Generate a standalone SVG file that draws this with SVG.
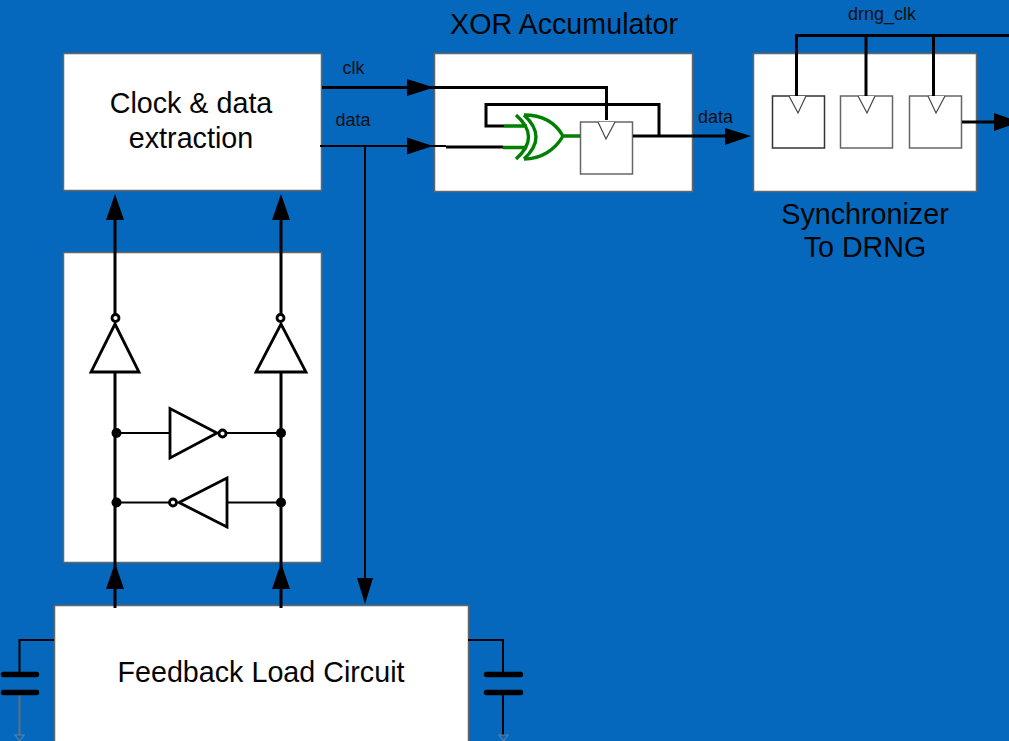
<svg xmlns="http://www.w3.org/2000/svg" width="1009" height="741" viewBox="0 0 1009 741">
<style>
.box{fill:#fff;stroke:#666;stroke-width:1.5}
.ff{fill:#fff;stroke:#666;stroke-width:1.5}
.clk{fill:#fff;stroke:#444;stroke-width:1.2}
.w{fill:none;stroke:#000;stroke-width:2}
.w3{fill:none;stroke:#000;stroke-width:3}
.g{fill:none;stroke:#008000;stroke-width:3.400}
.inv{fill:#fff;stroke:#000;stroke-width:2.800}
.a{fill:#000;stroke:none}
.dot{fill:#000}
.plate{stroke:#000;stroke-width:5.500;stroke-linecap:round;fill:none}
text{font-family:"Liberation Sans",Arial,sans-serif;fill:#000;text-anchor:middle}
.big{font-size:28.700px;fill:#050505}
.sm{font-size:18px;fill:#111}
</style>
<rect width="1009" height="741" fill="#0668bd"/>
<g id="clock-data-extraction"><rect class="box" x="63.500" y="53.500" width="258" height="137"/><text class="big" x="191" y="113">Clock &amp; data</text><text class="big" x="191" y="148">extraction</text></g>
<g id="latch"><rect class="box" x="63.500" y="252.500" width="258" height="310"/></g>
<g id="xor-accumulator"><rect class="box" x="434.500" y="53.500" width="258" height="138"/><text class="big" x="564" y="34">XOR Accumulator</text>
<rect class="ff" x="580.500" y="122" width="52" height="52"/><path class="clk" d="M598 122L606 139L615 122"/></g>
<g id="synchronizer"><rect class="box" x="753.500" y="53.500" width="223" height="138"/><text class="big" x="865" y="224">Synchronizer</text><text class="big" x="865" y="257">To DRNG</text>
<rect class="ff" x="772.500" y="96" width="52" height="52" style="stroke:#333"/><path class="clk" d="M789 96L798 113L806 96"/>
<rect class="ff" x="840.500" y="96" width="52" height="52"/><path class="clk" d="M858 96L867 113L875 96"/>
<rect class="ff" x="909.500" y="96" width="52" height="52"/><path class="clk" d="M928 96L936 113L945 96"/></g>
<g id="feedback-load-circuit"><rect class="box" x="54.500" y="605.500" width="414" height="140"/><text class="big" x="261" y="682">Feedback Load Circuit</text></g>
<g id="xor-gate"><path class="g" d="M504 126H527M503 147.500H527M563 136H580M516 115Q541 137 516 159M524 115Q548 137 524 159M524 115C541 115 555 122 563 136C555 150 541 159 524 159"/></g>
<g id="connectors">
<path class="w3" d="M322 87.500H606.500V120"/><path class="a" d="M407 79L434 87.500L407 96Z"/>
<path class="w" d="M320 146H446"/><path class="w3" d="M446 147H503"/><path class="a" d="M407 137.500L433 146L407 154.500Z"/>
<path class="w3" d="M504 126H486V104.500H659V136"/>
<path class="w3" d="M633 136H726"/><path class="a" d="M725 128L751 136L725 145Z"/>
<path class="w" d="M365 146V580"/><path class="a" d="M357 578H373L365 604Z"/>
<path class="w3" d="M796.500 96V35.500H1009"/><path class="w3" d="M866 35.500V96M933.500 35.500V96"/>
<path class="w3" d="M962 122H996"/><path class="a" d="M994 113L1020 122L994 131Z"/>
<path class="w3" d="M115 218V314M281 218V314M115 372V608M281 372V608"/>
<path class="a" d="M106 220L115 194L124 220ZM272 220L281 194L290 220ZM106 589L115 563L124 589ZM272 589L281 563L290 589Z"/>
<path class="w" d="M115 433H170M227 433H281M115 502.500H170M227 502.500H281"/>
<circle class="dot" cx="116.500" cy="433" r="5"/><circle class="dot" cx="281" cy="433" r="5"/><circle class="dot" cx="116.500" cy="502.500" r="5"/><circle class="dot" cx="281" cy="502.500" r="5"/>
<path class="w" d="M54 640H19.500V674M468 640H503V674M503 692V735"/>
<path d="M19.500 692V735" fill="none" stroke="#5c6f80" stroke-width="2"/>
</g>
<g id="inverters">
<path class="inv" d="M91 372H139L115 324Z"/><circle class="inv" cx="115.500" cy="318" r="3.500"/>
<path class="inv" d="M256 372H306L281 324Z"/><circle class="inv" cx="280.500" cy="318" r="3.500"/>
<path class="inv" d="M170 408.500V458L217 433Z"/><circle class="inv" cx="222.500" cy="433.500" r="3.500"/>
<path class="inv" d="M227 478V527L179 502.500Z"/><circle class="inv" cx="173" cy="502.500" r="3.500"/>
</g>
<g id="capacitors">
<path class="plate" d="M3.500 674.500H36.500M3.500 692.500H36.500M486.500 674.500H520.500M486.500 692.500H520.500"/>
<path d="M15 735H24L19.500 741Z" fill="none" stroke="#5c7f9c" stroke-width="1.200"/>
<path d="M499 735H508L503.500 741Z" fill="none" stroke="#5c7f9c" stroke-width="1.200"/>
</g>
<g id="labels">
<text class="sm" x="353.500" y="74">clk</text><text class="sm" x="353" y="126">data</text><text class="sm" x="715.500" y="123">data</text><text class="sm" x="882" y="20">drng_clk</text>
</g>
</svg>
